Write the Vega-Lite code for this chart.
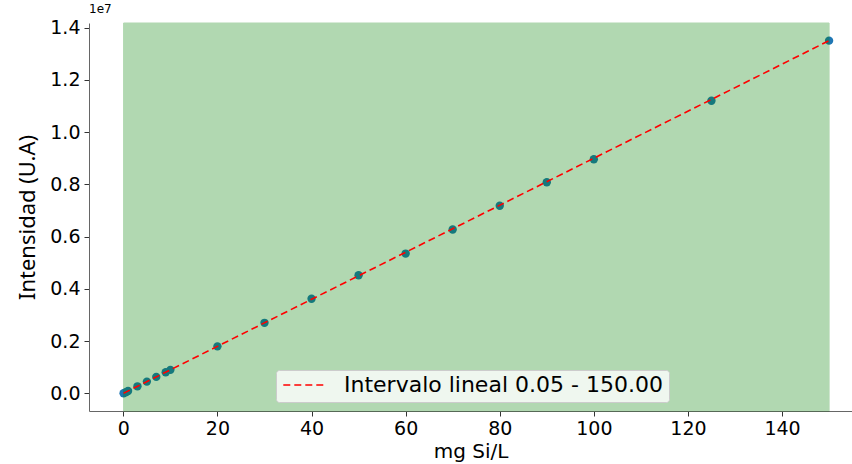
{
  "$schema": "https://vega.github.io/schema/vega-lite/v6.json",
  "autosize": "none",
  "width": 763,
  "height": 388,
  "padding": {"left": 89, "top": 23, "right": 0, "bottom": 53},
  "background": "white",
  "config": {
    "view": {"stroke": null},
    "axis": {
      "labelFont": "DejaVu Sans",
      "labelFontSize": 19,
      "labelColor": "#000000",
      "tickColor": "#333333",
      "tickSize": 5,
      "domainColor": "#666666",
      "grid": false,
      "titleColor": "#000000",
      "titleFontWeight": "normal"
    },
    "title": {"font": "DejaVu Sans", "fontSize": 12, "fontWeight": "normal", "anchor": "start", "frame": "group", "offset": 3, "color": "#000000"}
  },
  "title": "1e7",
  "datasets": {
    "pts": [
      {"x": 0.05, "y": 4500},
      {"x": 0.5, "y": 45000},
      {"x": 1, "y": 90000},
      {"x": 3, "y": 270000},
      {"x": 5, "y": 450000},
      {"x": 7, "y": 630000},
      {"x": 9, "y": 810000},
      {"x": 10, "y": 900000},
      {"x": 20, "y": 1800000},
      {"x": 30, "y": 2700000},
      {"x": 40, "y": 3620000},
      {"x": 50, "y": 4520000},
      {"x": 60, "y": 5350000},
      {"x": 70, "y": 6270000},
      {"x": 80, "y": 7180000},
      {"x": 90, "y": 8080000},
      {"x": 100, "y": 8960000},
      {"x": 125, "y": 11200000},
      {"x": 150, "y": 13500000}
    ],
    "span": [{"start": 0.05, "end": 150}],
    "fit": [
      {"x": 0.05, "y": 4500},
      {"x": 150, "y": 13500000}
    ]
  },
  "layer": [
    {
      "data": {"name": "pts"},
      "mark": {"type": "point", "filled": true, "size": 70, "color": "#1f77b4", "opacity": 1},
      "encoding": {
        "x": {"field": "x", "type": "quantitative",
              "scale": {"domain": [-7.3, 154.87], "nice": false, "zero": false},
              "axis": {"values": [0, 20, 40, 60, 80, 100, 120, 140], "title": "mg Si/L", "titleFont": "DejaVu Sans", "titleFontSize": 20, "titlePadding": 3, "labelPadding": 3}},
        "y": {"field": "y", "type": "quantitative",
              "scale": {"domain": [-675000, 14175000], "nice": false, "zero": false},
              "axis": {"values": [0, 2000000, 4000000, 6000000, 8000000, 10000000, 12000000, 14000000],
                       "labelExpr": "format(datum.value / 10000000, '.1f')",
                       "title": "Intensidad (U.A)", "titleFont": "Noto Sans", "titleFontSize": 22, "titlePadding": 10, "labelPadding": 4}}
      }
    },
    {
      "data": {"name": "span"},
      "mark": {"type": "rect", "color": "green", "opacity": 0.3, "stroke": "green", "strokeWidth": 1},
      "encoding": {
        "x": {"field": "start", "type": "quantitative"},
        "x2": {"field": "end"}
      }
    },
    {
      "data": {"name": "fit"},
      "mark": {"type": "line", "strokeDash": [7, 4], "strokeWidth": 1.6},
      "encoding": {
        "x": {"field": "x", "type": "quantitative"},
        "y": {"field": "y", "type": "quantitative"},
        "color": {"datum": "Intervalo lineal 0.05 - 150.00", "type": "nominal",
                  "scale": {"range": ["#ff0000"]},
                  "legend": {"title": null, "orient": "none", "legendX": 187, "legendY": 347,
                             "symbolType": "stroke", "symbolSize": 1800, "symbolStrokeWidth": 1.6, "symbolDash": [7, 4],
                             "clipHeight": 18, "labelLimit": 600,
                             "labelFont": "DejaVu Sans", "labelFontSize": 22, "labelColor": "#000000", "labelOffset": 17,
                             "fillColor": "rgba(255,255,255,0.8)", "strokeColor": "#cccccc", "cornerRadius": 3, "padding": 6}}
      }
    },
    {
      "mark": {"type": "rule", "color": "#000000", "strokeWidth": 1},
      "encoding": {"y": {"datum": 14175000, "type": "quantitative"}}
    }
  ]
}
